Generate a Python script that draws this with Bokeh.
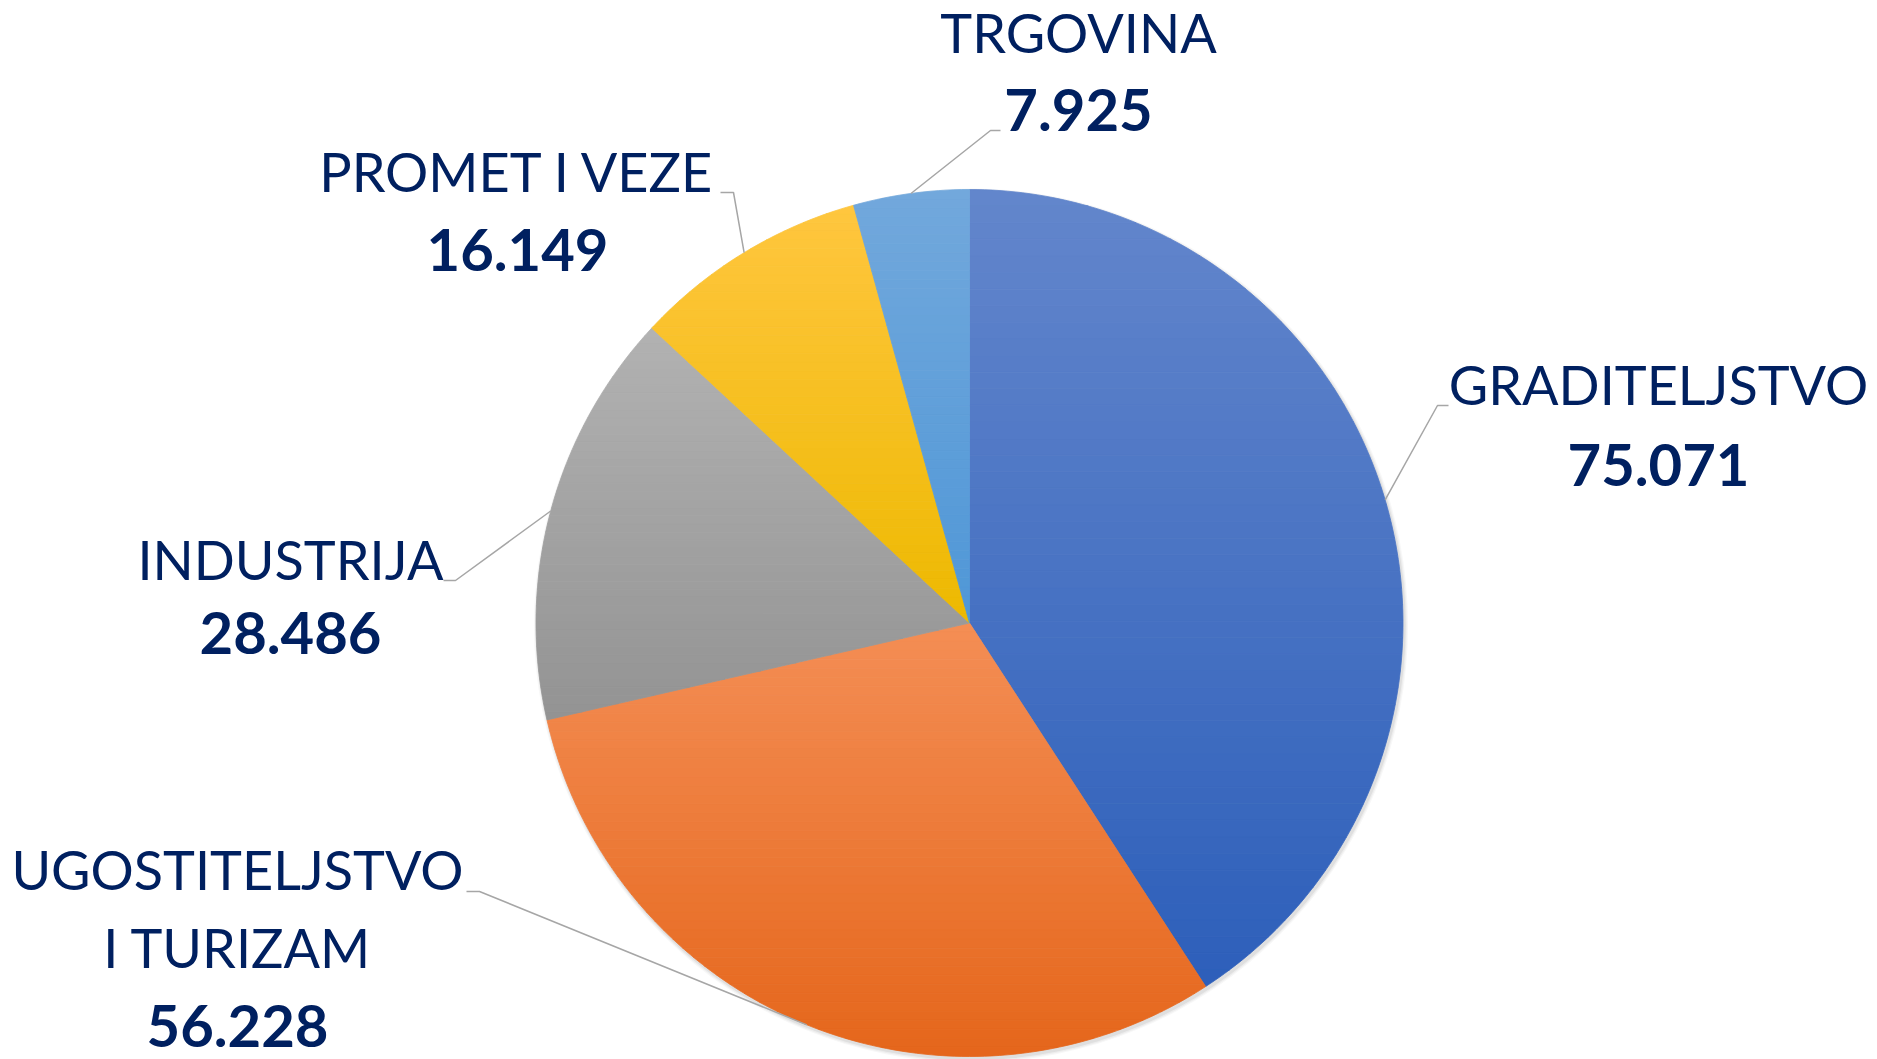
import math
from bokeh.plotting import figure
from bokeh.models import Range1d, ColumnDataSource
from bokeh.embed import file_html
from bokeh.resources import INLINE
from bokeh.core.properties import value

# ---------------- data ----------------
categories = ["GRADITELJSTVO", "UGOSTITELJSTVO\nI TURIZAM", "INDUSTRIJA", "PROMET I VEZE", "TRGOVINA"]
values = [75.071, 56.228, 28.486, 16.149, 7.925]
value_labels = ["75.071", "56.228", "28.486", "16.149", "7.925"]

# ---------------- styles ----------------
top_colors = ["#6386CC", "#F48E55", "#B2B2B2", "#FFC63F", "#72A8DC"]
bot_colors = ["#2D5FBA", "#E5661B", "#939393", "#EDB900", "#4F97D7"]
text_color = "#002060"
font = "Lato"

W, H = 1877, 1059
cx, cy, R = 969.0, 622.5, 433.5

# label layout: (center x, baseline of first line), elbow point, line end
text_shift = -21
label_pos = [(1658, 405), (237, 890), (290, 580), (517, 192), (1078, 53)]
line_gap = [80, 78, 73, 78, 77]
elbows = [(1437, 405), (479, 891), (455, 580), (733, 192), (990, 130)]
ends = [(1448, 405), (466, 891), (443, 580), (720, 192), (1000, 130)]

p = figure(width=W, height=H, x_range=Range1d(0, W), y_range=Range1d(H, 0),
           output_backend="svg", toolbar_location=None, min_border=0,
           x_axis_location=None, y_axis_location=None)
p.outline_line_color = None
p.xgrid.visible = False
p.ygrid.visible = False
p.background_fill_color = "white"
p.border_fill_color = "white"

# soft shadow
for k, a in [(6, 0.03), (4, 0.04), (2, 0.06)]:
    p.circle(x=[cx + 1.5], y=[cy + 2.5], radius=R + k * 0.6, fill_color="black",
             fill_alpha=a, line_color=None)


def hex2rgb(h):
    h = h.lstrip("#")
    return tuple(int(h[i:i + 2], 16) for i in (0, 2, 4))


def mix(c1, c2, t):
    a, b = hex2rgb(c1), hex2rgb(c2)
    return "#%02x%02x%02x" % tuple(int(round(a[i] + (b[i] - a[i]) * t)) for i in range(3))


def clip_half(pts, keep, inter):
    out = []
    n = len(pts)
    for i in range(n):
        cur, prev = pts[i], pts[i - 1]
        if keep(cur):
            if not keep(prev):
                out.append(inter(prev, cur))
            out.append(cur)
        elif keep(prev):
            out.append(inter(prev, cur))
    return out


def ix(pp, q, y):
    t = (y - pp[1]) / (q[1] - pp[1])
    return (pp[0] + t * (q[0] - pp[0]), y)


def clip_band(poly, ylo, yhi):
    pts = clip_half(poly, lambda q: q[1] >= ylo, lambda a, b: ix(a, b, ylo))
    if pts:
        pts = clip_half(pts, lambda q: q[1] <= yhi, lambda a, b: ix(a, b, yhi))
    return pts


total = sum(values)
xs, ys, cols = [], [], []
mids = []
cum = 0.0
for i, v in enumerate(values):
    a0 = cum / total * 2 * math.pi
    cum += v
    a1 = cum / total * 2 * math.pi
    mids.append((a0 + a1) / 2)
    n = max(8, int((a1 - a0) / (2 * math.pi) * 360))
    poly = [(cx, cy)]
    for j in range(n + 1):
        t = a0 + (a1 - a0) * j / n
        poly.append((cx + R * math.sin(t), cy - R * math.cos(t)))
    ymin = min(q[1] for q in poly)
    ymax = max(q[1] for q in poly)
    nb = 48
    for b in range(nb):
        ylo = ymin + (ymax - ymin) * b / nb
        yhi = ymin + (ymax - ymin) * (b + 1) / nb
        pts = clip_band(poly, ylo, yhi)
        if len(pts) < 3:
            continue
        xs.append([q[0] for q in pts])
        ys.append([q[1] for q in pts])
        cols.append(mix(top_colors[i], bot_colors[i], (b + 0.5) / nb))

src = ColumnDataSource(dict(xs=xs, ys=ys, c=cols))
p.patches("xs", "ys", source=src, fill_color="c", line_color="c", line_width=0.8)

# leader lines
for i in range(len(values)):
    m = mids[i]
    rx, ry = cx + R * math.sin(m), cy - R * math.cos(m)
    p.line([rx, elbows[i][0], ends[i][0]], [ry, elbows[i][1], ends[i][1]],
           line_color="#A6A6A6", line_width=1.5)

# labels
for i, cat in enumerate(categories):
    lx, ly = label_pos[i]
    ly = ly + text_shift
    lines = cat.split("\n")
    for k, ln in enumerate(lines):
        p.text(x=[lx], y=[ly + k * line_gap[i]], text=[ln], text_align="center",
               text_baseline="alphabetic", text_color=text_color,
               text_font=value(font), text_font_size="54px")
    p.text(x=[lx], y=[ly + len(lines) * line_gap[i]], text=[value_labels[i]],
           text_align="center", text_baseline="alphabetic", text_color=text_color,
           text_font=value(font), text_font_style="bold", text_font_size="58px")

open("out.html", "w").write(file_html(p, INLINE))
